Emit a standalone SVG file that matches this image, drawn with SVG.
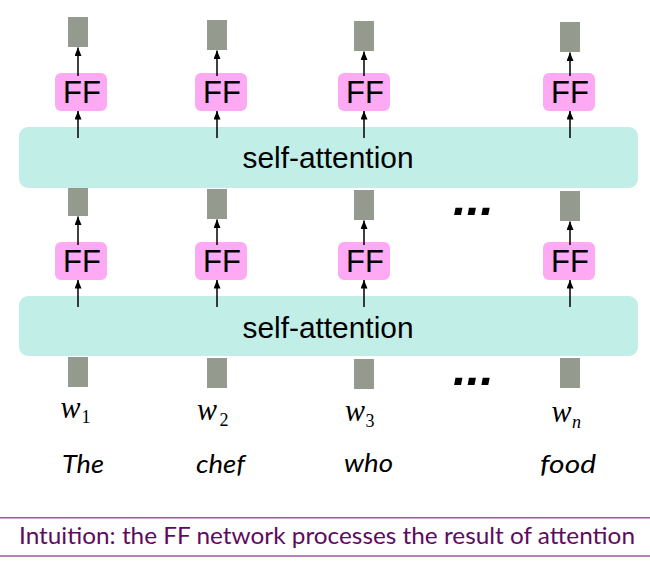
<svg xmlns="http://www.w3.org/2000/svg" width="650" height="566" viewBox="0 0 650 566">
<defs>
<style>
.vec{fill:#959A8F}
.ff rect{fill:#FDA9F4}
.ff text{font-family:"Liberation Sans",Arial,sans-serif;font-size:31px;fill:#000;text-anchor:middle}
.band rect{fill:#C2EEE8}
.band text{font-family:"Liberation Sans",Arial,sans-serif;font-size:29px;fill:#000;text-anchor:middle}
.conn line{stroke:#000;stroke-width:1.5;marker-end:url(#ah)}
.w{font-family:"Liberation Serif","Times New Roman",serif;font-style:italic;font-size:31px;fill:#000}
.sub{font-family:"Liberation Serif","Times New Roman",serif;font-size:18px;fill:#000}
.word{font-family:Lato,"Liberation Sans",sans-serif;font-style:italic;font-size:25px;fill:#000}
.dots{font-family:"Liberation Sans",Arial,sans-serif;font-weight:bold;font-style:italic;font-size:49px;fill:#000}
.cap{font-family:Lato,"Liberation Sans",sans-serif;font-size:24px;fill:#5E0B5E}
.rule{stroke:#9B5A96;stroke-width:1.5}
</style>
<marker id="ah" markerUnits="userSpaceOnUse" markerWidth="9" markerHeight="8" refX="8.5" refY="3.5" orient="auto">
<path d="M0,0 L8.5,3.5 L0,7 z" fill="#000"/>
</marker>
</defs>
<rect width="650" height="566" fill="#fff"/>

<!-- bottom input vectors -->
<g id="inputs">
<rect class="vec" x="68" y="357" width="20" height="30"/>
<rect class="vec" x="207" y="358" width="20" height="30"/>
<rect class="vec" x="354" y="359" width="20" height="30"/>
<rect class="vec" x="560" y="358" width="20" height="30"/>
</g>

<!-- middle vectors -->
<g id="mid-vectors">
<rect class="vec" x="68" y="188" width="20" height="28"/>
<rect class="vec" x="207" y="189" width="20" height="30"/>
<rect class="vec" x="354" y="190" width="20" height="30"/>
<rect class="vec" x="560" y="191" width="20" height="30"/>
</g>

<!-- top vectors -->
<g id="top-vectors">
<rect class="vec" x="68" y="17" width="20" height="30"/>
<rect class="vec" x="207" y="20" width="20" height="30"/>
<rect class="vec" x="354" y="21" width="20" height="30"/>
<rect class="vec" x="560" y="22" width="20" height="30"/>
</g>

<g id="sa1" class="band">
<rect x="19" y="127" width="619" height="61" rx="9"/>
<text x="328" y="168.3" textLength="171" lengthAdjust="spacingAndGlyphs">self-attention</text>
</g>
<g id="sa2" class="band">
<rect x="19" y="296" width="619" height="60" rx="9"/>
<text x="328" y="337.7" textLength="171" lengthAdjust="spacingAndGlyphs">self-attention</text>
</g>

<g id="ff-top-1" class="ff"><rect x="55" y="73" width="52" height="38" rx="6"/><text x="82" y="102.7">FF</text></g>
<g id="ff-top-2" class="ff"><rect x="195" y="73" width="52" height="38" rx="6"/><text x="222" y="102.7">FF</text></g>
<g id="ff-top-3" class="ff"><rect x="338" y="73" width="52" height="38" rx="6"/><text x="365" y="102.7">FF</text></g>
<g id="ff-top-4" class="ff"><rect x="543" y="73" width="52" height="38" rx="6"/><text x="570" y="102.7">FF</text></g>

<g id="ff-mid-1" class="ff"><rect x="55" y="242" width="52" height="38" rx="6"/><text x="82" y="271.7">FF</text></g>
<g id="ff-mid-2" class="ff"><rect x="195" y="242" width="52" height="38" rx="6"/><text x="222" y="271.7">FF</text></g>
<g id="ff-mid-3" class="ff"><rect x="338" y="242" width="52" height="38" rx="6"/><text x="365" y="271.7">FF</text></g>
<g id="ff-mid-4" class="ff"><rect x="543" y="242" width="52" height="38" rx="6"/><text x="570" y="271.7">FF</text></g>

<g id="connectors" class="conn">
<line x1="78" y1="76" x2="78" y2="47.5"/>
<line x1="217" y1="76" x2="217" y2="50.5"/>
<line x1="364" y1="76" x2="364" y2="51.5"/>
<line x1="570" y1="76" x2="570" y2="52.5"/>
<line x1="78" y1="138" x2="78" y2="111"/>
<line x1="217" y1="138" x2="217" y2="111"/>
<line x1="364" y1="138" x2="364" y2="111"/>
<line x1="570" y1="138" x2="570" y2="111"/>
<line x1="78" y1="245" x2="78" y2="216.5"/>
<line x1="217" y1="245" x2="217" y2="219.5"/>
<line x1="364" y1="245" x2="364" y2="220.5"/>
<line x1="570" y1="245" x2="570" y2="221.5"/>
<line x1="78" y1="307" x2="78" y2="280"/>
<line x1="217" y1="307" x2="217" y2="280"/>
<line x1="364" y1="307" x2="364" y2="280"/>
<line x1="570" y1="307" x2="570" y2="280"/>
</g>

<text class="dots" x="453" y="215">...</text>
<text class="dots" x="453" y="384.5">...</text>

<g id="labels">
<text class="w" x="60.5" y="418" textLength="20" lengthAdjust="spacingAndGlyphs">w</text><text class="sub" x="81.5" y="423">1</text>
<text class="w" x="197" y="420" textLength="20" lengthAdjust="spacingAndGlyphs">w</text><text class="sub" x="219.5" y="425.5">2</text>
<text class="w" x="345" y="421" textLength="20" lengthAdjust="spacingAndGlyphs">w</text><text class="sub" x="365.5" y="427">3</text>
<text class="w" x="551.5" y="422" textLength="20" lengthAdjust="spacingAndGlyphs">w</text><text class="sub" x="572" y="428" font-style="italic">n</text>
<text class="word" x="62" y="472.7" textLength="42" lengthAdjust="spacingAndGlyphs">The</text>
<text class="word" x="196" y="472.7" textLength="49" lengthAdjust="spacingAndGlyphs">chef</text>
<text class="word" x="344" y="472.2" textLength="49" lengthAdjust="spacingAndGlyphs">who</text>
<text class="word" x="540" y="472.7" textLength="56" lengthAdjust="spacingAndGlyphs">food</text>
</g>

<line class="rule" x1="0" y1="517.7" x2="650" y2="517.7"/>
<line class="rule" x1="0" y1="556" x2="650" y2="556"/>
<text class="cap" x="19" y="544" textLength="616" lengthAdjust="spacingAndGlyphs">Intuition: the FF network processes the result of attention</text>
</svg>
